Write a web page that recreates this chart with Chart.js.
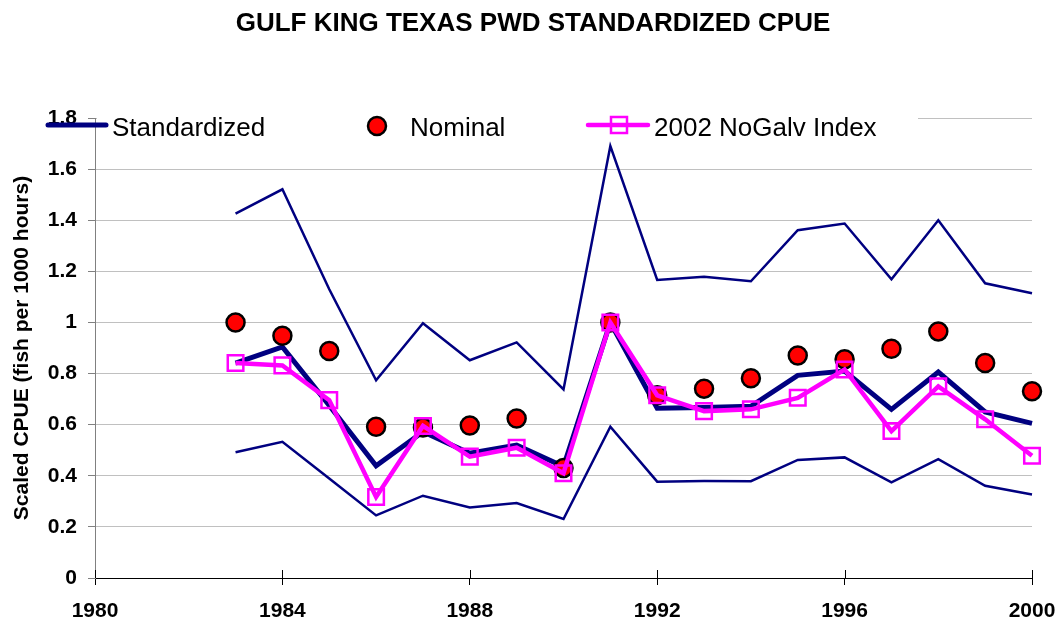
<!DOCTYPE html>
<html>
<head>
<meta charset="utf-8">
<title>Gulf King Texas PWD Standardized CPUE</title>
<script src="https://cdn.jsdelivr.net/npm/chart.js@4.4.1/dist/chart.umd.min.js"></script>
<style>
    html, body { margin: 0; padding: 0; background: #fff; }
    #chart-container { width: 1061px; height: 624px; position: relative; }
</style>
</head>
<body>
<div id="chart-container"><canvas id="cpueChart"></canvas></div>
<script>
// Values
const years = [1983, 1984, 1985, 1986, 1987, 1988, 1989, 1990, 1991, 1992,
               1993, 1994, 1995, 1996, 1997, 1998, 1999, 2000];
const standardized = [0.841, 0.904, 0.675, 0.439, 0.572, 0.488, 0.520, 0.436, 1.0, 0.664,
                      0.667, 0.672, 0.793, 0.810, 0.660, 0.806, 0.650, 0.605];
const upperCI = [1.426, 1.521, 1.13, 0.774, 0.997, 0.852, 0.922, 0.738, 1.690, 1.166,
                 1.179, 1.161, 1.361, 1.387, 1.169, 1.400, 1.153, 1.114];
const lowerCI = [0.492, 0.533, 0.389, 0.245, 0.322, 0.276, 0.293, 0.231, 0.592, 0.377,
                 0.380, 0.379, 0.462, 0.472, 0.374, 0.465, 0.361, 0.327];
const nominal = [1.0, 0.948, 0.888, 0.592, 0.589, 0.597, 0.624, 0.430, 1.0, 0.715,
                 0.741, 0.782, 0.871, 0.856, 0.897, 0.965, 0.841, 0.731];
const noGalvIndex = [0.841, 0.832, 0.696, 0.317, 0.595, 0.475, 0.510, 0.410, 1.0, 0.715,
                     0.653, 0.660, 0.705, 0.816, 0.575, 0.750, 0.621, 0.478];

const chartTitle = 'GULF KING TEXAS PWD STANDARDIZED CPUE';
const yAxisTitle = 'Scaled CPUE (fish per 1000 hours)';
const legendNames = ['Standardized', 'Nominal', '2002 NoGalv Index'];

const NAVY = '#000080';
const MAGENTA = '#ff00ff';
const FONT = '"Liberation Sans", Arial, sans-serif';

// Pair years with values for the linear x axis
function toPoints(values) {
    return years.map((yr, i) => ({ x: yr, y: values[i] }));
}

// Title, legend box and crossing x ticks drawn on top of the chart
const decorPlugin = {
    id: 'decor',
    afterDraw(chart) {
        const ctx = chart.ctx;
        const xs = chart.scales.x;
        const bottom = chart.chartArea.bottom;
        ctx.save();

        // x tick marks cross the axis
        ctx.strokeStyle = '#000';
        ctx.lineWidth = 1;
        for (let v = 1980; v <= 2000; v += 4) {
            const px = Math.round(xs.getPixelForValue(v)) + 0.5;
            ctx.beginPath();
            ctx.moveTo(px, bottom - 8);
            ctx.lineTo(px, bottom);
            ctx.stroke();
        }

        // title
        ctx.fillStyle = '#000';
        ctx.font = 'bold 26px ' + FONT;
        ctx.textAlign = 'center';
        ctx.textBaseline = 'alphabetic';
        ctx.fillText(chartTitle, 533, 31);

        // legend background
        ctx.fillStyle = '#fff';
        ctx.fillRect(97, 105, 821, 35);

        // Standardized marker
        ctx.lineCap = 'round';
        ctx.strokeStyle = NAVY;
        ctx.lineWidth = 5;
        ctx.beginPath();
        ctx.moveTo(48, 125);
        ctx.lineTo(106, 125);
        ctx.stroke();

        // Nominal marker
        ctx.fillStyle = '#ff0000';
        ctx.strokeStyle = '#000';
        ctx.lineWidth = 2.5;
        ctx.beginPath();
        ctx.arc(377, 126, 9, 0, Math.PI * 2);
        ctx.fill();
        ctx.stroke();

        // Index marker
        ctx.strokeStyle = MAGENTA;
        ctx.lineWidth = 4.5;
        ctx.beginPath();
        ctx.moveTo(588, 125);
        ctx.lineTo(648, 125);
        ctx.stroke();
        ctx.lineWidth = 2.5;
        ctx.strokeRect(611, 117, 16, 16);

        // legend texts
        ctx.fillStyle = '#000';
        ctx.font = '26px ' + FONT;
        ctx.textAlign = 'left';
        ctx.fillText(legendNames[0], 112, 136);
        ctx.fillText(legendNames[1], 410, 136);
        ctx.fillText(legendNames[2], 654, 136);

        ctx.restore();
    }
};

function renderChart() {
    const canvas = document.getElementById('cpueChart');
    const ctx = canvas.getContext('2d');

    new Chart(ctx, {
        type: 'line',
        data: {
            datasets: [
                {
                    label: legendNames[2],
                    data: toPoints(noGalvIndex),
                    borderColor: MAGENTA,
                    borderWidth: 4.5,
                    pointStyle: 'rect',
                    pointRadius: 11,
                    pointBorderWidth: 2.5,
                    pointBorderColor: MAGENTA,
                    pointBackgroundColor: 'rgba(0,0,0,0)',
                    tension: 0,
                    clip: false,
                    order: 0
                },
                {
                    label: legendNames[1],
                    data: toPoints(nominal),
                    showLine: false,
                    pointStyle: 'circle',
                    pointRadius: 9,
                    pointBorderWidth: 2.5,
                    pointBorderColor: '#000',
                    pointBackgroundColor: '#ff0000',
                    clip: false,
                    order: 1
                },
                {
                    label: legendNames[0],
                    data: toPoints(standardized),
                    borderColor: NAVY,
                    borderWidth: 5,
                    pointRadius: 0,
                    tension: 0,
                    clip: false,
                    order: 2
                },
                {
                    label: 'Upper',
                    data: toPoints(upperCI),
                    borderColor: NAVY,
                    borderWidth: 2.5,
                    pointRadius: 0,
                    tension: 0,
                    clip: false,
                    order: 3
                },
                {
                    label: 'Lower',
                    data: toPoints(lowerCI),
                    borderColor: NAVY,
                    borderWidth: 2.5,
                    pointRadius: 0,
                    tension: 0,
                    clip: false,
                    order: 4
                }
            ]
        },
        options: {
            responsive: true,
            maintainAspectRatio: false,
            animation: false,
            events: [],
            layout: {
                padding: { top: 118, right: 29, left: 0, bottom: 0 }
            },
            plugins: {
                legend: { display: false },
                title: { display: false },
                tooltip: { enabled: false }
            },
            scales: {
                x: {
                    type: 'linear',
                    min: 1980,
                    max: 2000,
                    afterFit(scale) {
                        scale.height = 46;
                        scale.paddingLeft = 0;
                        scale.paddingRight = 0;
                    },
                    ticks: {
                        stepSize: 4,
                        color: '#000',
                        padding: 14,
                        maxRotation: 0,
                        font: { family: FONT, size: 21, weight: 'bold' },
                        callback: v => String(v)
                    },
                    grid: {
                        drawOnChartArea: false,
                        drawTicks: true,
                        tickLength: 7,
                        color: '#000'
                    },
                    border: { color: '#000', width: 1 }
                },
                y: {
                    min: 0,
                    max: 1.8,
                    afterFit(scale) {
                        scale.width = 95;
                        scale.paddingTop = 0;
                        scale.paddingBottom = 0;
                    },
                    ticks: {
                        stepSize: 0.2,
                        color: '#000',
                        padding: 11,
                        font: { family: FONT, size: 21, weight: 'bold' },
                        callback: v => String(Number(v.toFixed(1)))
                    },
                    grid: {
                        color: '#c0c0c0',
                        tickColor: '#808080',
                        tickLength: 7
                    },
                    border: { color: '#808080', width: 1 },
                    title: {
                        display: true,
                        text: yAxisTitle,
                        color: '#000',
                        padding: { top: 10, bottom: 0 },
                        font: { family: FONT, size: 21, weight: 'bold' }
                    }
                }
            }
        },
        plugins: [decorPlugin]
    });
}

renderChart();
</script>
</body>
</html>
